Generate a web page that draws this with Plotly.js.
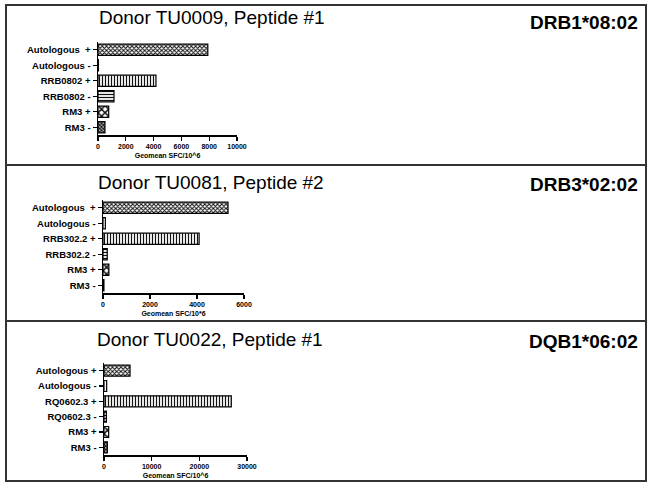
<!DOCTYPE html>
<html>
<head>
<meta charset="utf-8">
<script src="https://cdn.plot.ly/plotly-3.0.1.min.js"></script>
<style>html,body{margin:0;padding:0;background:#fff;}#chart{width:654px;height:487px;}</style>
</head>
<body>
<div id="chart"></div>
<script>
// ---- data ----
const titles = ["Donor TU0009, Peptide #1", "Donor TU0081, Peptide #2", "Donor TU0022, Peptide #1"];
const alleles = ["DRB1*08:02", "DRB3*02:02", "DQB1*06:02"];
const xTitles = ["Geomean SFC/10^6", "Geomean SFC/10*6", "Geomean SFC/10^6"];

const categories1 = ["Autologous  +", "Autologous -", "RRB0802 +", "RRB0802 -", "RM3 +", "RM3 -"];
const values1 = [7900, 30, 4170, 1150, 770, 500];

const categories2 = ["Autologous  +", "Autologous -", "RRB302.2 +", "RRB302.2 -", "RM3 +", "RM3 -"];
const values2 = [5320, 100, 4090, 180, 250, 40];

const categories3 = ["Autologous +", "Autologous -", "RQ0602.3 +", "RQ0602.3 -", "RM3 +", "RM3 -"];
const values3 = [5460, 560, 26700, 500, 980, 700];

const xRanges = [[0, 10000], [0, 6000], [0, 30000]];
const xDticks = [2000, 2000, 10000];

// ---- styling ----
const FONT = "Liberation Sans, Arial, sans-serif";
const W = 654, H = 487;
const patShapes = ["x", "", "|", "-", "x", "x"];
const patSizes = [3, 8, 3, 3, 5, 2.5];
const patSolid = [0.55, 0.3, 0.4, 0.4, 0.5, 0.7];

// pixel geometry of each panel's plot area
const geo = [
  {x0: 98, x1: 237, yTop: 42, yBot: 135, titleX: 97, titleY: 18, alleleY: 22, box: [6, 5, 646, 165]},
  {x0: 103, x1: 244, yTop: 200, yBot: 293, titleX: 96, titleY: 182, alleleY: 184, box: [6, 165, 646, 321]},
  {x0: 104, x1: 247, yTop: 363, yBot: 455, titleX: 95, titleY: 339, alleleY: 341, box: [6, 321, 646, 481]}
];

const cats = [categories1, categories2, categories3];
const vals = [values1, values2, values3];

const data = [];
const layout = {
  width: W, height: H,
  margin: {l: 0, r: 0, t: 0, b: 0},
  paper_bgcolor: "#fff", plot_bgcolor: "rgba(0,0,0,0)",
  showlegend: false,
  bargap: 0.28,
  font: {family: FONT, color: "#000"},
  annotations: [], shapes: []
};

for (let i = 0; i < 3; i++) {
  const s = i === 0 ? "" : String(i + 1);
  const g = geo[i];
  data.push({
    type: "bar", orientation: "h",
    x: vals[i], y: cats[i],
    xaxis: "x" + s, yaxis: "y" + s,
    marker: {
      color: "#fff",
      line: {color: "#000", width: 1.2},
      pattern: {shape: patShapes, size: patSizes, solidity: patSolid, fgcolor: "#111", bgcolor: "#fff", fillmode: "replace"}
    },
    hoverinfo: "x+y"
  });
  layout["xaxis" + s] = {
    domain: [g.x0 / W, g.x1 / W],
    anchor: "y" + s,
    range: xRanges[i], dtick: xDticks[i], tick0: 0,
    tickformat: "d",
    showgrid: false, zeroline: false,
    showline: true, linecolor: "#000", linewidth: 1.5,
    ticks: "outside", ticklen: 4, tickwidth: 1.2, tickcolor: "#000",
    tickfont: {family: FONT, size: 7, weight: "bold", color: "#000"},
    title: {text: xTitles[i], font: {family: FONT, size: 7, weight: "bold", color: "#000"}, standoff: 4},
    automargin: false, fixedrange: true
  };
  layout["yaxis" + s] = {
    domain: [1 - g.yBot / H, 1 - g.yTop / H],
    anchor: "x" + s,
    type: "category", categoryorder: "array", categoryarray: cats[i],
    range: [5.5, -0.5],
    showgrid: false, zeroline: false,
    showline: true, linecolor: "#000", linewidth: 1.5,
    ticks: "outside", ticklen: 4, tickwidth: 1.2, tickcolor: "#000",
    tickfont: {family: FONT, size: 9.5, weight: "bold", color: "#000"},
    automargin: false, fixedrange: true
  };
  layout.annotations.push({
    xref: "paper", yref: "paper", x: g.titleX / W, y: 1 - g.titleY / H,
    xanchor: "left", yanchor: "middle", showarrow: false,
    text: titles[i], font: {family: FONT, size: 19, color: "#000"}
  });
  layout.annotations.push({
    xref: "paper", yref: "paper", x: 640 / W, y: 1 - g.alleleY / H,
    xanchor: "right", yanchor: "middle", showarrow: false,
    text: alleles[i], font: {family: FONT, size: 19, weight: "bold", color: "#000"}
  });
  const b = g.box;
  layout.shapes.push({
    type: "rect", xref: "paper", yref: "paper",
    x0: b[0] / W, x1: b[2] / W, y0: 1 - b[3] / H, y1: 1 - b[1] / H,
    line: {color: "#333", width: 2}, fillcolor: "rgba(0,0,0,0)"
  });
}

Plotly.newPlot("chart", data, layout, {displayModeBar: false, staticPlot: true});
</script>
</body>
</html>
